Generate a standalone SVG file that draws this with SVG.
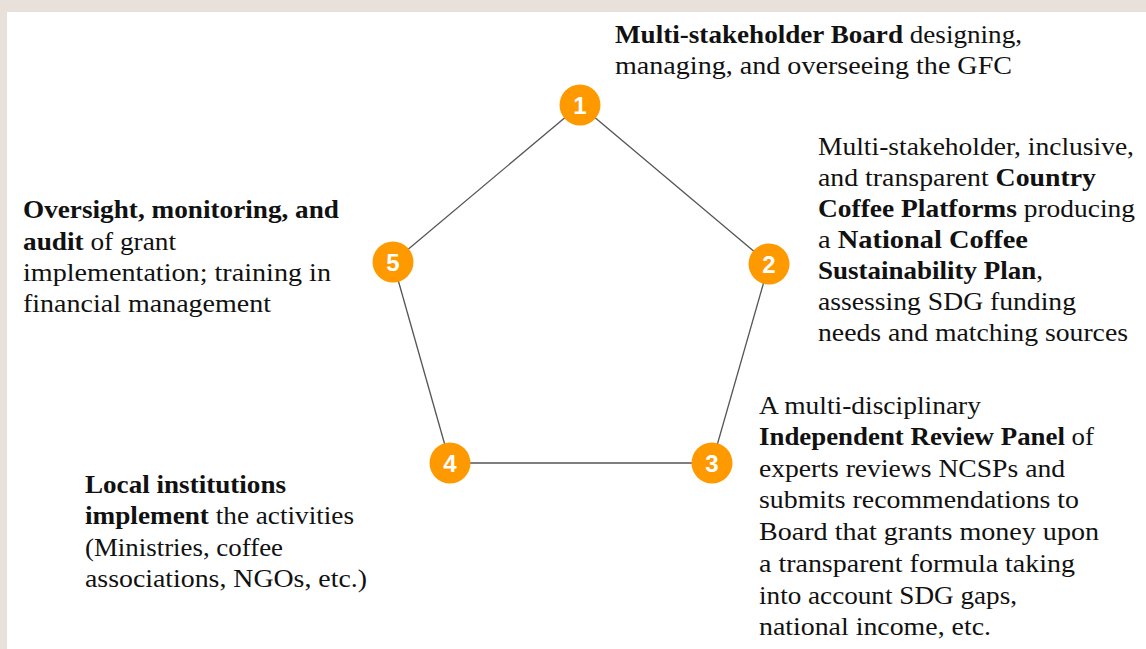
<svg xmlns="http://www.w3.org/2000/svg" width="1146" height="649" viewBox="0 0 1146 649">
<style>
.t{font-family:"Liberation Serif","Times New Roman",serif;font-size:24.5px;fill:#111}
.b{font-weight:bold}
.c{fill:#FF9900}
.n{font-family:"Liberation Sans",Arial,sans-serif;font-size:24px;font-weight:bold;fill:#fff;text-anchor:middle}
.e{stroke:#555;stroke-width:1.3;fill:none}
</style>
<rect x="0" y="0" width="1146" height="649" fill="#e8e0db"/>
<rect x="7" y="12" width="1139" height="637" fill="#fff"/>
<g id="connectors">
<line class="e" x1="580" y1="105" x2="769" y2="264"/>
<line class="e" x1="769" y1="264" x2="712" y2="463"/>
<line class="e" x1="712" y1="463" x2="450" y2="463"/>
<line class="e" x1="450" y1="463" x2="393" y2="262"/>
<line class="e" x1="393" y1="262" x2="580" y2="105"/>
</g>
<g id="node1">
<circle class="c" cx="580" cy="105" r="20.5"/>
<text class="n" x="580" y="113.5">1</text>
<text class="t" x="615" y="43" textLength="407" lengthAdjust="spacingAndGlyphs"><tspan class="b">Multi-stakeholder Board</tspan> designing,</text>
<text class="t" x="615" y="74" textLength="397" lengthAdjust="spacingAndGlyphs">managing, and overseeing the GFC</text>
</g>
<g id="node2">
<circle class="c" cx="769" cy="264" r="20.5"/>
<text class="n" x="769" y="272.5">2</text>
<text class="t" x="818" y="155" textLength="316" lengthAdjust="spacingAndGlyphs">Multi-stakeholder, inclusive,</text>
<text class="t" x="818" y="186" textLength="278" lengthAdjust="spacingAndGlyphs">and transparent <tspan class="b">Country</tspan></text>
<text class="t" x="818" y="217" textLength="317" lengthAdjust="spacingAndGlyphs"><tspan class="b">Coffee Platforms</tspan> producing</text>
<text class="t" x="818" y="248" textLength="210" lengthAdjust="spacingAndGlyphs">a <tspan class="b">National Coffee</tspan></text>
<text class="t" x="818" y="279" textLength="225" lengthAdjust="spacingAndGlyphs"><tspan class="b">Sustainability Plan</tspan>,</text>
<text class="t" x="818" y="310" textLength="258" lengthAdjust="spacingAndGlyphs">assessing SDG funding</text>
<text class="t" x="818" y="341" textLength="310" lengthAdjust="spacingAndGlyphs">needs and matching sources</text>
</g>
<g id="node3">
<circle class="c" cx="712" cy="463" r="20.5"/>
<text class="n" x="712" y="471.5">3</text>
<text class="t" x="759" y="414" textLength="222" lengthAdjust="spacingAndGlyphs">A multi-disciplinary</text>
<text class="t" x="759" y="445" textLength="335" lengthAdjust="spacingAndGlyphs"><tspan class="b">Independent Review Panel</tspan> of</text>
<text class="t" x="759" y="477" textLength="306" lengthAdjust="spacingAndGlyphs">experts reviews NCSPs and</text>
<text class="t" x="759" y="508" textLength="320" lengthAdjust="spacingAndGlyphs">submits recommendations to</text>
<text class="t" x="759" y="540" textLength="340" lengthAdjust="spacingAndGlyphs">Board that grants money upon</text>
<text class="t" x="759" y="572" textLength="316" lengthAdjust="spacingAndGlyphs">a transparent formula taking</text>
<text class="t" x="759" y="604" textLength="258" lengthAdjust="spacingAndGlyphs">into account SDG gaps,</text>
<text class="t" x="759" y="635" textLength="232" lengthAdjust="spacingAndGlyphs">national income, etc.</text>
</g>
<g id="node4">
<circle class="c" cx="450" cy="463" r="20.5"/>
<text class="n" x="450" y="471.5">4</text>
<text class="t" x="85" y="493" textLength="201" lengthAdjust="spacingAndGlyphs"><tspan class="b">Local institutions</tspan></text>
<text class="t" x="85" y="524" textLength="269" lengthAdjust="spacingAndGlyphs"><tspan class="b">implement</tspan> the activities</text>
<text class="t" x="85" y="556" textLength="198" lengthAdjust="spacingAndGlyphs">(Ministries, coffee</text>
<text class="t" x="85" y="587" textLength="282" lengthAdjust="spacingAndGlyphs">associations, NGOs, etc.)</text>
</g>
<g id="node5">
<circle class="c" cx="393" cy="262" r="20.5"/>
<text class="n" x="393" y="270.5">5</text>
<text class="t" x="23" y="218" textLength="316" lengthAdjust="spacingAndGlyphs"><tspan class="b">Oversight, monitoring, and</tspan></text>
<text class="t" x="23" y="250" textLength="153" lengthAdjust="spacingAndGlyphs"><tspan class="b">audit</tspan> of grant</text>
<text class="t" x="23" y="281" textLength="308" lengthAdjust="spacingAndGlyphs">implementation; training in</text>
<text class="t" x="23" y="312" textLength="248" lengthAdjust="spacingAndGlyphs">financial management</text>
</g>
</svg>
